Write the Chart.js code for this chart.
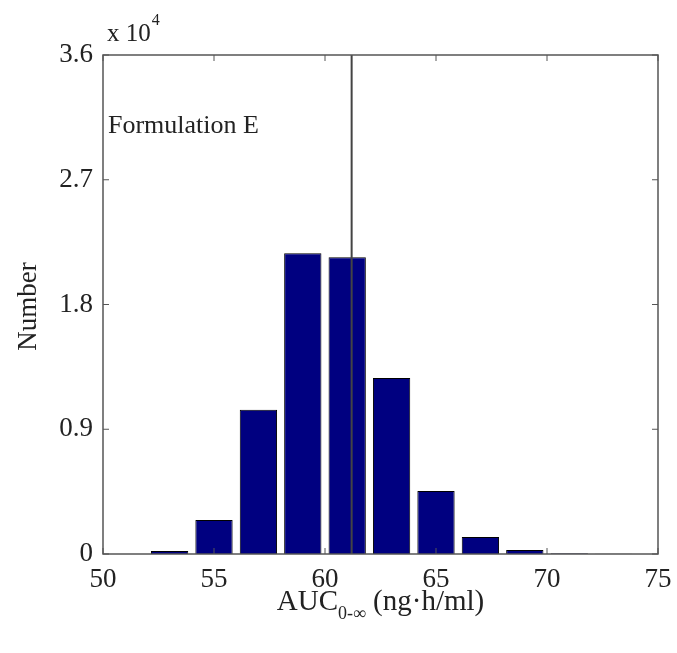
<!DOCTYPE html>
<html>
<head>
<meta charset="utf-8">
<script src="https://cdn.jsdelivr.net/npm/chart.js@4"></script>
<style>
  html, body { margin: 0; padding: 0; background: #fff; }
  #wrap { width: 677px; height: 653px; }
</style>
</head>
<body>
<div id="wrap"><canvas id="hist"></canvas></div>
<script>
"use strict";

// histogram bins (ng·h/ml) and counts
const binCenters = [53, 55, 57, 59, 61, 63, 65, 67, 69, 71, 73];
const counts = [220, 2450, 10400, 21700, 21400, 12700, 4550, 1230, 290, 50, 10];
const xTicks = [50, 55, 60, 65, 70, 75];
const yTicks = [0, 9000, 18000, 27000, 36000];
const meanLine = 61.2;

const serif = "'Liberation Serif', 'DejaVu Serif', serif";

const framePlugin = {
    id: "frame",
    afterDraw(chart) {
        const ctx = chart.ctx;
        const a = chart.chartArea;
        const xs = chart.scales.x;
        const ys = chart.scales.y;
        ctx.save();
        ctx.strokeStyle = "#555";
        ctx.lineWidth = 1.5;
        ctx.strokeRect(a.left, a.top, a.right - a.left, a.bottom - a.top);

        // inward ticks, all four sides
        const tl = 6;
        ctx.lineWidth = 1;
        ctx.beginPath();
        xTicks.forEach(v => {
            const px = xs.getPixelForValue(v);
            ctx.moveTo(px, a.bottom); ctx.lineTo(px, a.bottom - tl);
            ctx.moveTo(px, a.top); ctx.lineTo(px, a.top + tl);
        });
        yTicks.forEach(v => {
            const py = ys.getPixelForValue(v);
            ctx.moveTo(a.left, py); ctx.lineTo(a.left + tl, py);
            ctx.moveTo(a.right, py); ctx.lineTo(a.right - tl, py);
        });
        ctx.stroke();

        ctx.fillStyle = "#222";
        // exponent label
        ctx.font = "25px " + serif;
        ctx.textAlign = "left";
        ctx.textBaseline = "alphabetic";
        ctx.fillText("x 10", a.left + 4, 41);
        const w10 = ctx.measureText("x 10").width;
        ctx.font = "16px " + serif;
        ctx.fillText("4", a.left + 4 + w10 + 1, 25);

        // annotation
        ctx.font = "26px " + serif;
        ctx.fillText("Formulation E", a.left + 5, 133);

        // y title
        ctx.save();
        ctx.translate(36, (a.top + a.bottom) / 2 + 2);
        ctx.rotate(-Math.PI / 2);
        ctx.textAlign = "center";
        ctx.font = "27px " + serif;
        ctx.fillText("Number", 0, 0);
        ctx.restore();

        // x title with subscript
        const big = "29px " + serif;
        const small = "18px " + serif;
        const p1 = "AUC", sub = "0-\u221E", p2 = " (ng\u00B7h/ml)";
        ctx.font = big;
        const w1 = ctx.measureText(p1).width;
        const w3 = ctx.measureText(p2).width;
        ctx.font = small;
        const w2 = ctx.measureText(sub).width;
        let x0 = (a.left + a.right) / 2 - (w1 + w2 + w3) / 2;
        const base = 610;
        ctx.font = big;
        ctx.fillText(p1, x0, base);
        ctx.font = small;
        ctx.fillText(sub, x0 + w1, base + 9);
        ctx.font = big;
        ctx.fillText(p2, x0 + w1 + w2, base);
        ctx.restore();
    }
};

new Chart(document.getElementById("hist"), {
    type: "bar",
    data: {
        datasets: [
            {
                type: "line",
                data: [{ x: meanLine, y: 0 }, { x: meanLine, y: 36000 }],
                borderColor: "#444",
                borderWidth: 2,
                pointRadius: 0,
                order: 0,
            },
            {
                type: "bar",
                data: binCenters.map((c, i) => ({ x: c, y: counts[i] })),
                backgroundColor: "#000080",
                borderColor: "#000000",
                borderWidth: 1,
                categoryPercentage: 1,
                barPercentage: 0.84,
                order: 1,
            },
        ],
    },
    options: {
        responsive: true,
        maintainAspectRatio: false,
        animation: false,
        layout: { padding: { top: 55, right: 19, left: 0, bottom: 0 } },
        plugins: {
            legend: { display: false },
            tooltip: { enabled: false },
        },
        scales: {
            x: {
                type: "linear",
                min: 50,
                max: 75,
                offset: false,
                afterFit: s => { s.height = 99; s.paddingLeft = 0; s.paddingRight = 0; },
                afterBuildTicks: s => { s.ticks = xTicks.map(v => ({ value: v })); },
                grid: { display: false, drawTicks: false },
                border: { display: false },
                ticks: {
                    padding: 10,
                    color: "#222",
                    font: { family: serif, size: 27 },
                },
            },
            y: {
                min: 0,
                max: 36000,
                afterFit: s => { s.width = 103; s.paddingTop = 0; s.paddingBottom = 0; },
                afterBuildTicks: s => { s.ticks = yTicks.map(v => ({ value: v })); },
                grid: { display: false, drawTicks: false },
                border: { display: false },
                ticks: {
                    padding: 10,
                    color: "#222",
                    font: { family: serif, size: 27 },
                    callback: v => v === 0 ? "0" : (v / 10000).toFixed(1),
                },
            },
        },
    },
    plugins: [framePlugin],
});
</script>
</body>
</html>
